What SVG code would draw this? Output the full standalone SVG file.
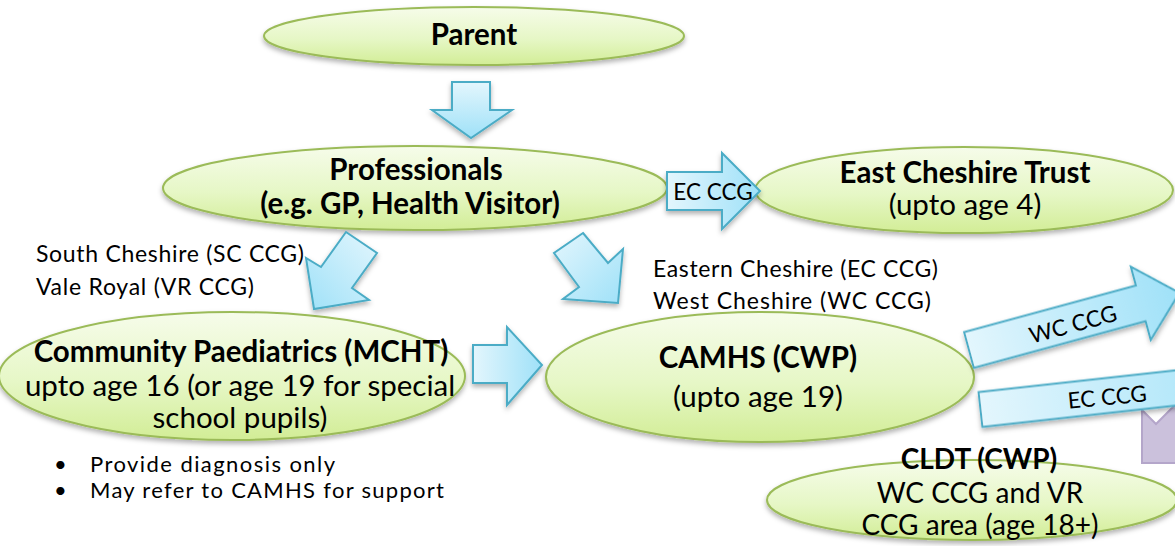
<svg xmlns="http://www.w3.org/2000/svg" width="1175" height="546" viewBox="0 0 1175 546">
<defs>
<linearGradient id="gEll" x1="0" y1="0" x2="0" y2="1">
<stop offset="0" stop-color="#F6FCEA"/>
<stop offset="0.55" stop-color="#E6F7C6"/>
<stop offset="1" stop-color="#D2ED96"/>
</linearGradient>
<linearGradient id="gArrH" x1="0" y1="0" x2="1" y2="0">
<stop offset="0" stop-color="#E3F6FD"/>
<stop offset="1" stop-color="#9FE1F8"/>
</linearGradient>
<linearGradient id="gArrV" x1="0" y1="0" x2="0" y2="1">
<stop offset="0" stop-color="#E3F6FD"/>
<stop offset="1" stop-color="#9FE1F8"/>
</linearGradient>
<linearGradient id="gArrDL" x1="1" y1="0" x2="0" y2="1">
<stop offset="0" stop-color="#E3F6FD"/>
<stop offset="1" stop-color="#9FE1F8"/>
</linearGradient>
<linearGradient id="gArrDR" x1="0" y1="0" x2="1" y2="1">
<stop offset="0" stop-color="#E3F6FD"/>
<stop offset="1" stop-color="#9FE1F8"/>
</linearGradient>
<filter id="sh" x="-10%" y="-20%" width="120%" height="150%">
<feDropShadow dx="0" dy="3" stdDeviation="2.5" flood-color="#000" flood-opacity="0.3"/>
</filter>
</defs>
<style>
.ell{fill:url(#gEll);stroke:#9BBB59;stroke-width:2;filter:url(#sh)}
.arr{stroke:#4BACC6;stroke-width:2;stroke-linejoin:miter;filter:url(#sh)}
.h{font-family:Lato,"Liberation Sans",sans-serif;font-weight:bold;font-size:29.5px;fill:#000;text-anchor:middle}
.hs{font-family:Lato,"Liberation Sans",sans-serif;font-weight:bold;font-size:28px;fill:#000;text-anchor:middle}
.b{font-family:Lato,"Liberation Sans",sans-serif;font-size:29.5px;fill:#000;text-anchor:middle}
.bs{font-family:Lato,"Liberation Sans",sans-serif;font-size:28px;fill:#000;text-anchor:middle}
.s{font-family:Lato,"Liberation Sans",sans-serif;font-size:23px;fill:#000}
.t{font-family:Lato,"Liberation Sans",sans-serif;font-size:22px;fill:#000}
.sc{font-family:Lato,"Liberation Sans",sans-serif;font-size:22.5px;fill:#000;text-anchor:middle}
</style>

<g id="node-parent">
<ellipse class="ell" cx="474" cy="36" rx="210" ry="29"/>
<text class="h" x="474" y="45">Parent</text>
</g>

<g id="node-professionals">
<ellipse class="ell" cx="415" cy="188" rx="252" ry="42"/>
<text class="h" x="416" y="180">Professionals</text>
<text class="h" x="410" y="214">(e.g. GP, Health Visitor)</text>
</g>

<g id="node-east-cheshire">
<ellipse class="ell" cx="964" cy="190" rx="209" ry="43"/>
<text class="h" x="965" y="183">East Cheshire Trust</text>
<text class="b" x="965" y="215">(upto age 4)</text>
</g>

<g id="node-community">
<ellipse class="ell" cx="232" cy="376" rx="233" ry="64"/>
<text class="h" x="241" y="362">Community Paediatrics (MCHT)</text>
<text class="b" x="240" y="396">upto age 16 (or age 19 for special</text>
<text class="b" x="240" y="428">school pupils)</text>
</g>

<g id="node-camhs">
<ellipse class="ell" cx="760" cy="377" rx="214" ry="65"/>
<text class="h" x="758" y="368">CAMHS (CWP)</text>
<text class="b" x="758" y="407">(upto age 19)</text>
</g>

<g id="node-cldt">
<ellipse class="ell" cx="972" cy="500" rx="205" ry="40"/>
<text class="hs" x="979" y="469">CLDT (CWP)</text>
<text class="bs" x="980" y="503">WC CCG and VR</text>
<text class="bs" x="980" y="535">CCG area (age 18+)</text>
</g>

<g id="node-purple">
<polygon points="1142,410 1156,424 1180,400 1180,463 1142,463" fill="#CBC1DC" stroke="#B4A6CA" stroke-width="2"/>
</g>

<g id="labels">
<text class="s" x="36" y="262" textLength="268" lengthAdjust="spacing">South Cheshire (SC CCG)</text>
<text class="s" x="36" y="295" textLength="218" lengthAdjust="spacing">Vale Royal (VR CCG)</text>
<text class="s" x="653" y="277" textLength="285" lengthAdjust="spacing">Eastern Cheshire (EC CCG)</text>
<text class="s" x="653" y="309" textLength="278" lengthAdjust="spacing">West Cheshire  (WC CCG)</text>
<text class="t" x="54" y="472">•</text>
<text class="t" x="90" y="472" textLength="245" lengthAdjust="spacing">Provide diagnosis only</text>
<text class="t" x="54" y="498">•</text>
<text class="t" x="90" y="498" textLength="354" lengthAdjust="spacing">May refer to CAMHS for support</text>
</g>

<g id="connectors">
<polygon class="arr" fill="url(#gArrV)" points="452,82 490,82 490,110 512,110 471,138 432,110 452,110"/>
<polygon class="arr" fill="url(#gArrH)" points="667,172 722,172 722,153 760,191 722,229 722,210 667,210"/>
<polygon class="arr" fill="url(#gArrDL)" points="346,232 377,253 352,288 369,300 314,309 306,258 321,267"/>
<polygon class="arr" fill="url(#gArrDR)" points="583,233 608,263 623,249 618,303 563,299 579,287 554,253"/>
<polygon class="arr" fill="url(#gArrH)" points="473,345 507,345 507,327 542,365 507,405 507,383 473,383"/>
<polygon class="arr" fill="url(#gArrH)" transform="translate(969,350) rotate(-15.2)" points="0,-18.5 178,-18.5 178,-38 218,0 178,38 178,18.5 0,18.5"/>
<polygon class="arr" fill="url(#gArrH)" transform="translate(980.5,409.5) rotate(-6.3)" points="0,-17.5 260,-17.5 260,-36 300,0 260,36 260,17.5 0,17.5"/>
<text class="sc" x="713" y="200">EC CCG</text>
<text class="sc" transform="translate(1075,332) rotate(-15.2)" x="0" y="0">WC CCG</text>
<text class="sc" transform="translate(1108,405) rotate(-5.5)" x="0" y="0">EC CCG</text>
</g>
</svg>
